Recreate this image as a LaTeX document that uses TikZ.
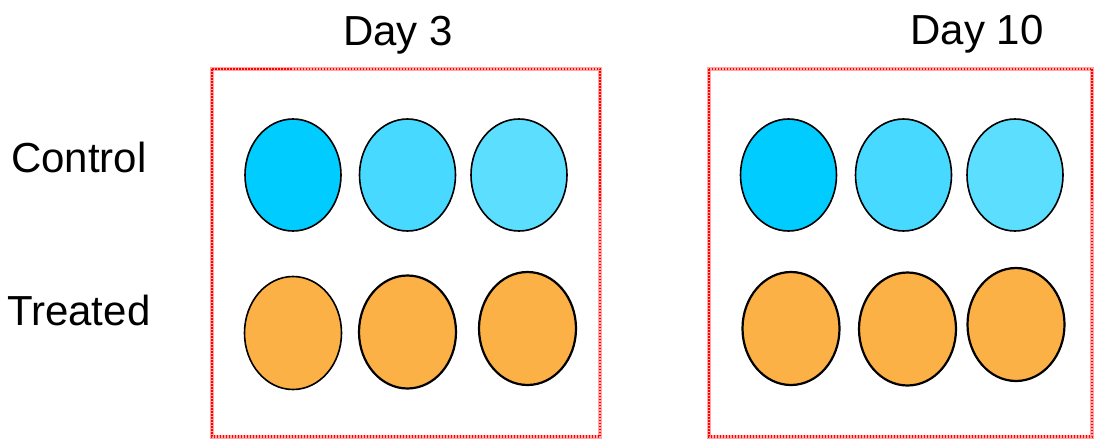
\documentclass[tikz,border=0pt]{standalone}
\usepackage{fontspec}
\setmainfont{Liberation Sans}
\usetikzlibrary{shapes.geometric}
\definecolor{cyanA}{RGB}{0,204,255}
\definecolor{cyanB}{RGB}{71,217,255}
\definecolor{cyanC}{RGB}{92,222,255}
\definecolor{orangeA}{RGB}{251,177,69}
\begin{document}
\begin{tikzpicture}[x=1pt,y=-1pt,
  cell/.style={ellipse, draw=black, line width=1.6pt, inner sep=0pt},
  ctrl/.style={cell, minimum width=96pt, minimum height=112pt},
  trt/.style={cell, fill=orangeA, minimum width=97pt, minimum height=113pt},
  thick trt/.style={trt, line width=2.2pt},
  label/.style={font=\fontsize{42pt}{48pt}\selectfont, anchor=base, inner sep=0pt},
  frameback/.style={draw=red!35, line width=4pt},
  framedots/.style={draw=red, line width=2.5pt, dash pattern=on 1.5pt off 1.5pt}
]
\useasboundingbox (0,0) rectangle (1094,439);
% frames
\coordinate (f1a) at (212,69); \coordinate (f1b) at (600,436.5);
\coordinate (f2a) at (709,69); \coordinate (f2b) at (1092,436.5);
\draw[frameback] (f1a) rectangle (f1b);
\draw[framedots] (f1a) rectangle (f1b);
\draw[frameback] (f2a) rectangle (f2b);
\draw[framedots] (f2a) rectangle (f2b);
% labels
\node[label] (d3) at (398,45) {Day 3};
\node[label] (d10) at (977,44) {Day 10};
\node[label, anchor=base west] (ctl) at (11,172) {Control};
\node[label, anchor=base west] (trl) at (7,325) {Treated};
% day 3 control
\node[ctrl, fill=cyanA] (c31) at (293,175) {};
\node[ctrl, fill=cyanB] (c32) at (407.5,175) {};
\node[ctrl, fill=cyanC] (c33) at (519,175) {};
% day 3 treated
\node[trt] (t31) at (293,333) {};
\node[thick trt] (t32) at (407.5,332) {};
\node[thick trt] (t33) at (527.5,328.5) {};
% day 10 control
\node[ctrl, fill=cyanA] (c101) at (788.5,175) {};
\node[ctrl, fill=cyanB] (c102) at (903.5,175) {};
\node[ctrl, fill=cyanC] (c103) at (1015,175) {};
% day 10 treated
\node[thick trt] (t101) at (791,328.5) {};
\node[thick trt] (t102) at (907.5,329) {};
\node[thick trt] (t103) at (1016,324.5) {};
\end{tikzpicture}
\end{document}
